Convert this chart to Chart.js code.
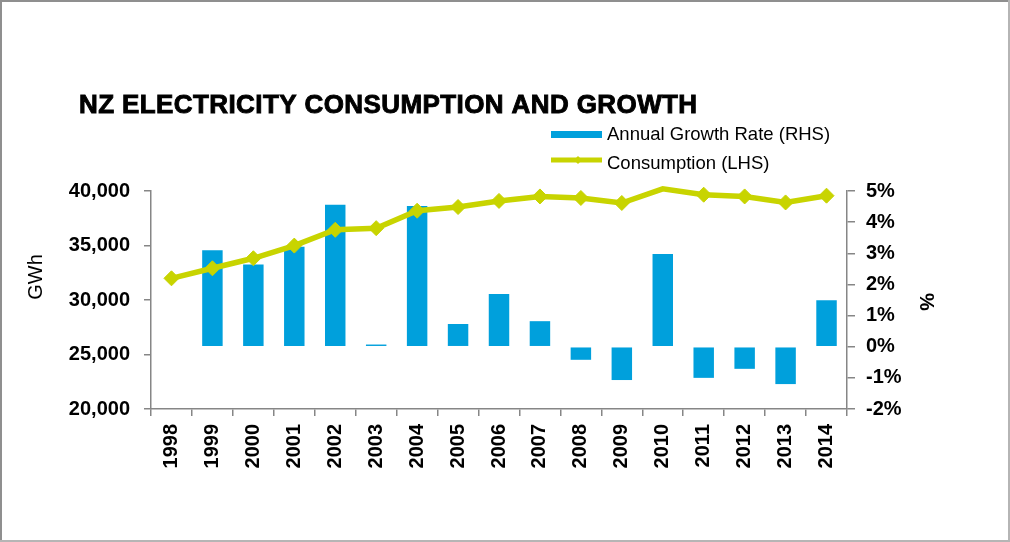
<!DOCTYPE html>
<html>
<head>
<meta charset="utf-8">
<script src="https://cdn.jsdelivr.net/npm/chart.js@4.4.1/dist/chart.umd.min.js"></script>
<style>
  html, body { margin: 0; padding: 0; background: #fff; }
  #wrap { width: 1010px; height: 542px; position: relative; }
</style>
</head>
<body>
<div id="wrap"><canvas id="nzChart" width="1010" height="542"></canvas></div>
<script>
// --- data ---
const chartTitle = 'NZ ELECTRICITY CONSUMPTION AND GROWTH';
const years = ['1998', '1999', '2000', '2001', '2002', '2003', '2004', '2005', '2006',
  '2007', '2008', '2009', '2010', '2011', '2012', '2013', '2014'];
// GWh (left axis)
const consumption = [31990, 32910, 33830, 34990, 36440, 36590, 38190, 38530, 39090,
  39500, 39360, 38900, 40200, 39660, 39500, 38950, 39570];
// % (right axis)
const growthRate = [null, 3.10, 2.64, 3.21, 4.56, 0.07, 4.52, 0.73, 1.69,
  0.82, -0.42, -1.07, 2.98, -1.00, -0.71, -1.20, 1.49];
const leftTicks = { min: 20000, max: 40000, step: 5000 };
const rightTicks = { min: -2, max: 5, step: 1 };

const BLUE = '#00a0dc';
const LIME = '#c8d400';
const AXIS = '#868686';
const FONT = '"Liberation Sans", Arial, sans-serif';

Chart.defaults.font.family = FONT;

// points above the axis max get no marker (like the original)
const markerSize = consumption.map(v => v > leftTicks.max ? 0 : 7.5);

const decorPlugin = {
  id: 'decor',
  beforeDraw(chart) {
    const ctx = chart.ctx;
    ctx.save();
    ctx.fillStyle = '#fff';
    ctx.fillRect(0, 0, chart.width, chart.height);
    ctx.restore();
  },
  afterDraw(chart) {
    const ctx = chart.ctx;
    const area = chart.chartArea;
    ctx.save();

    // frame
    ctx.fillStyle = '#8f8f8f';
    ctx.fillRect(0, 0, chart.width, 2);
    ctx.fillRect(0, 0, 2, chart.height);
    ctx.fillStyle = '#b5b5b5';
    ctx.fillRect(chart.width - 2, 0, 2, chart.height);
    ctx.fillRect(0, chart.height - 2, chart.width, 2);

    // title (heavy)
    ctx.fillStyle = '#000';
    ctx.strokeStyle = '#000';
    ctx.lineWidth = 0.9;
    ctx.font = 'bold 26px ' + FONT;
    ctx.letterSpacing = '0.4px';
    ctx.textAlign = 'left';
    ctx.textBaseline = 'alphabetic';
    ctx.fillText(chartTitle, 79, 112.5);
    ctx.strokeText(chartTitle, 79, 112.5);
    ctx.letterSpacing = '0px';

    // legend
    const ds = chart.data.datasets;
    ctx.font = '18.5px ' + FONT;
    ctx.fillStyle = BLUE;
    ctx.fillRect(551, 131, 51, 7);
    ctx.fillStyle = '#000';
    ctx.fillText(ds[1].label, 607, 140);

    ctx.strokeStyle = LIME;
    ctx.lineWidth = 5;
    ctx.beginPath();
    ctx.moveTo(551, 160);
    ctx.lineTo(602, 160);
    ctx.stroke();
    ctx.fillStyle = LIME;
    ctx.beginPath();
    ctx.moveTo(578, 156);
    ctx.lineTo(582, 160);
    ctx.lineTo(578, 164);
    ctx.lineTo(574, 160);
    ctx.closePath();
    ctx.fill();
    ctx.fillStyle = '#000';
    ctx.fillText(ds[0].label, 607, 169);

    // axis titles
    ctx.font = '20px ' + FONT;
    ctx.textAlign = 'center';
    ctx.textBaseline = 'middle';
    ctx.save();
    ctx.translate(36, 277);
    ctx.rotate(-Math.PI / 2);
    ctx.fillText('GWh', 0, 0);
    ctx.restore();

    ctx.font = 'bold 20px ' + FONT;
    ctx.save();
    ctx.translate(926, (area.top + area.bottom) / 2 + 2);
    ctx.rotate(Math.PI / 2);
    ctx.fillText('%', 0, 0);
    ctx.restore();

    ctx.restore();
  }
};

const tickFont = { size: 20, weight: 'bold' };

new Chart(document.getElementById('nzChart'), {
  data: {
    labels: years,
    datasets: [
      {
        type: 'line',
        label: 'Consumption (LHS)',
        data: consumption,
        yAxisID: 'y',
        borderColor: LIME,
        backgroundColor: LIME,
        borderWidth: 5.5,
        pointStyle: 'rectRot',
        pointRadius: markerSize,
        pointBorderWidth: 1,
        pointBorderColor: LIME,
        pointBackgroundColor: LIME,
        tension: 0,
        clip: 12,
        order: 0
      },
      {
        type: 'bar',
        label: 'Annual Growth Rate (RHS)',
        data: growthRate,
        yAxisID: 'y1',
        backgroundColor: BLUE,
        borderWidth: 0,
        barPercentage: 1,
        categoryPercentage: 0.5,
        order: 1
      }
    ]
  },
  options: {
    responsive: false,
    animation: false,
    layout: { padding: { top: 191, left: 0, right: 0, bottom: 0 } },
    plugins: {
      legend: { display: false },
      title: { display: false },
      tooltip: { enabled: false }
    },
    scales: {
      x: {
        offset: true,
        grid: { offset: true, drawOnChartArea: false, tickLength: 7, color: AXIS, lineWidth: 1.5 },
        border: { color: AXIS, width: 1.5 },
        ticks: { minRotation: 90, maxRotation: 90, padding: 8, color: '#000', font: tickFont },
        afterFit: s => { s.height = 133; }
      },
      y: {
        position: 'left',
        min: leftTicks.min,
        max: leftTicks.max,
        grid: { drawOnChartArea: false, tickLength: 7, color: AXIS, lineWidth: 1.5 },
        border: { color: AXIS, width: 1.5 },
        ticks: {
          stepSize: leftTicks.step,
          padding: 14,
          color: '#000',
          font: tickFont,
          callback: v => v.toLocaleString('en-US')
        },
        afterFit: s => { s.width = 151; }
      },
      y1: {
        position: 'right',
        min: rightTicks.min,
        max: rightTicks.max,
        grid: { drawOnChartArea: false, tickLength: 8, color: AXIS, lineWidth: 1.5 },
        border: { color: AXIS, width: 1.5 },
        ticks: {
          stepSize: rightTicks.step,
          padding: 11,
          color: '#000',
          font: tickFont,
          callback: v => v + '%'
        },
        afterFit: s => { s.width = 163; }
      }
    }
  },
  plugins: [decorPlugin]
});
</script>
</body>
</html>
